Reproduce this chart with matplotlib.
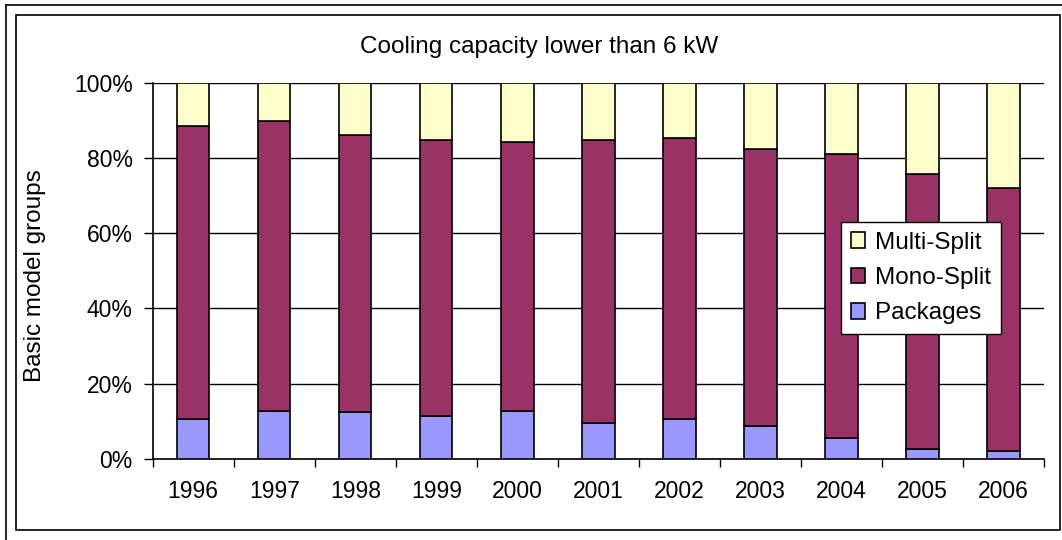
import matplotlib
matplotlib.use('Agg')
import matplotlib.pyplot as plt
from matplotlib.patches import Rectangle
from matplotlib.lines import Line2D
import numpy as np

plt.rcParams['font.family'] = ['Liberation Sans', 'DejaVu Sans']

# ---------- data (shares, %) ----------
years = ['1996', '1997', '1998', '1999', '2000', '2001',
         '2002', '2003', '2004', '2005', '2006']
packages = [10.5, 12.8, 12.4, 11.4, 12.8, 9.6, 10.5, 8.7, 5.5, 2.7, 2.2]
mono_top = [88.5, 89.9, 86.1, 84.8, 84.3, 84.8, 85.2, 82.4, 81.0, 75.6, 71.9]
mono_split = [m - p for m, p in zip(mono_top, packages)]
multi_split = [100 - m for m in mono_top]

C_MULTI = '#FFFFCC'
C_MONO = '#993366'
C_PACK = '#9999FF'

fig = plt.figure(figsize=(10.62, 5.40), dpi=100, facecolor='white')
ax = fig.add_axes([0.1438, 0.150, 0.8392, 0.6969])

x = np.arange(len(years))
w = 0.40
b1 = ax.bar(x, packages, w, color=C_PACK, edgecolor='black', linewidth=1.2,
            label='Packages', zorder=3)
b2 = ax.bar(x, mono_split, w, bottom=packages, color=C_MONO, edgecolor='black',
            linewidth=1.2, label='Mono-Split', zorder=3)
b3 = ax.bar(x, multi_split, w, bottom=mono_top, color=C_MULTI, edgecolor='black',
            linewidth=1.2, label='Multi-Split', zorder=3)

ax.set_xlim(-0.5, len(years) - 0.5)
ax.set_ylim(0, 100)
ax.set_yticks(np.arange(0, 101, 20))
ax.set_yticklabels([f'{v}%' for v in range(0, 101, 20)], fontsize=16.5)
ax.set_xticks(x)
ax.set_xticklabels(years, fontsize=16.5)
ax.set_xticks(np.arange(-0.5, len(years), 1), minor=True)
ax.tick_params(axis='x', which='major', length=0, pad=15)
ax.tick_params(axis='x', which='minor', length=6, width=1, direction='out')
ax.tick_params(axis='y', which='major', length=6.5, width=1, direction='out', pad=8)

ax.yaxis.grid(True, color='black', linewidth=1.0, zorder=0)
ax.set_axisbelow(True)
for s in ['top', 'right']:
    ax.spines[s].set_visible(False)
for s in ['left', 'bottom']:
    ax.spines[s].set_linewidth(1.2)

fig.text(35 / 1062, 0.489, 'Basic model groups', rotation=90, ha='center',
         va='center', fontsize=17.5)
fig.text(0.5075, 0.913, 'Cooling capacity lower than 6 kW', ha='center',
         va='center', fontsize=17.5)

leg = fig.legend(handles=[b3, b2, b1], labels=['Multi-Split', 'Mono-Split', 'Packages'],
                 loc='upper left', bbox_to_anchor=(0.792, 0.589), fontsize=17.5,
                 fancybox=False, shadow=False, framealpha=1, edgecolor='black',
                 handlelength=0.6, handleheight=0.6, handletextpad=0.4,
                 borderpad=0.4, labelspacing=0.55, borderaxespad=0)
leg.get_frame().set_linewidth(1.0)

# ---------- frames ----------
fig.patches.append(Rectangle((0.01507, 0.0185), 0.983, 0.9537, transform=fig.transFigure,
                             fill=False, edgecolor='black', linewidth=1.2))
fig.lines.append(Line2D([0.00565, 0.00565], [0.0, 0.9907], transform=fig.transFigure,
                        color='black', linewidth=1.2))
fig.lines.append(Line2D([0.00565, 1.0], [0.9907, 0.9907], transform=fig.transFigure,
                        color='black', linewidth=1.2))

plt.savefig('out.png', dpi=100, facecolor='white')
plt.close()
